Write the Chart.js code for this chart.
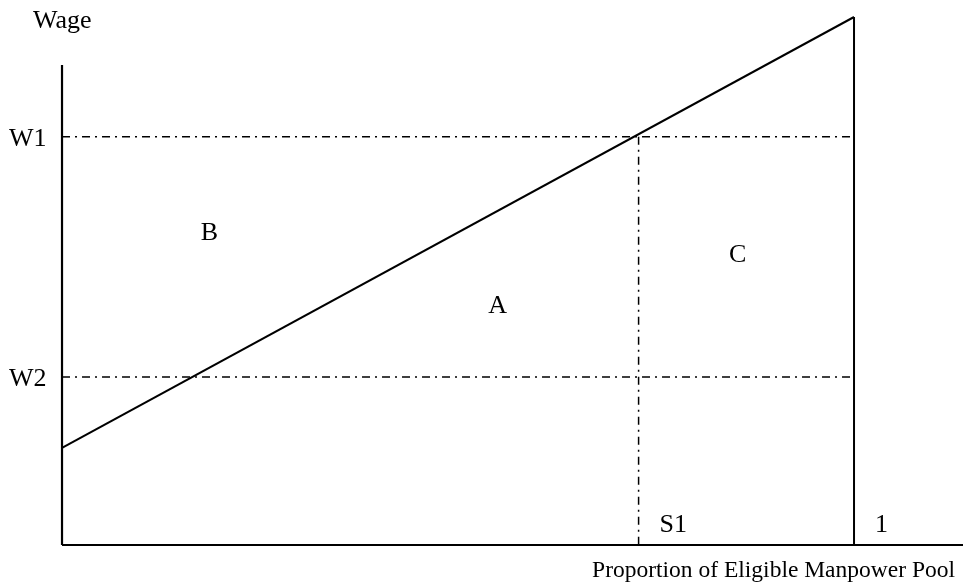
<!DOCTYPE html>
<html>
<head>
<meta charset="utf-8">
<script src="https://cdn.jsdelivr.net/npm/chart.js@4/dist/chart.umd.min.js"></script>
<style>
html,body{margin:0;padding:0;background:#fff;}
#c{display:block;}
</style>
</head>
<body>
<canvas id="c" width="963" height="587"></canvas>
<script>
// ---- Data (conceptual diagram values) ----
const supplyX = [0, 1];          // proportion of eligible pool
const supplyY = [1.84, 10];      // wage along supply curve
const W1 = 7.73;
const W2 = 3.18;
const S1 = 0.728;
const yAxisTop = 9.09;
const xAxisEnd = 1.14;
const wageTickLabels = ['W1', 'W2'];
const wageTickValues = [W1, W2];
const xTickLabels = ['S1', '1'];
const xTickValues = [S1, 1];
const regionLabels = ['B', 'A', 'C'];
const regionX = [0.186, 0.55, 0.853];
const regionY = [5.91, 4.53, 5.49];
const yTitle = 'Wage';
const xTitle = 'Proportion of Eligible Manpower Pool';

const FONT = '26px "Liberation Serif", "Times New Roman", serif';
const FONT_X = '23.5px "Liberation Serif", "Times New Roman", serif';
const dashDot = [8, 5, 2, 5];

const lineDs = (pts, opts) => Object.assign({
  data: pts, showLine: true, pointRadius: 0, borderColor: '#000',
  borderWidth: 2, fill: false, tension: 0
}, opts || {});

const datasets = [
  // axes
  lineDs([{x: 0, y: 0}, {x: 0, y: yAxisTop}], {borderWidth: 2.2}),
  lineDs([{x: 0, y: 0}, {x: xAxisEnd, y: 0}], {borderWidth: 2.2}),
  // vertical at proportion 1
  lineDs([{x: 1, y: 0}, {x: 1, y: supplyY[1]}], {borderWidth: 2}),
  // supply curve
  lineDs(supplyX.map((x, i) => ({x, y: supplyY[i]})), {borderWidth: 2}),
  // W1, W2 dash-dot
  lineDs([{x: 0, y: W1}, {x: 1, y: W1}], {borderWidth: 1.5, borderDash: dashDot}),
  lineDs([{x: 0, y: W2}, {x: 1, y: W2}], {borderWidth: 1.5, borderDash: dashDot}),
  // S1 vertical dash-dot
  lineDs([{x: S1, y: W1}, {x: S1, y: 0}], {borderWidth: 1.5, borderDash: dashDot}),
];

const textPlugin = {
  id: 'texts',
  afterDatasetsDraw(chart) {
    const ctx = chart.ctx;
    const xs = chart.scales.x, ys = chart.scales.y;
    ctx.save();
    ctx.fillStyle = '#000';
    ctx.font = FONT;
    // region labels
    ctx.textAlign = 'center';
    ctx.textBaseline = 'middle';
    regionLabels.forEach((t, i) => {
      ctx.fillText(t, xs.getPixelForValue(regionX[i]), ys.getPixelForValue(regionY[i]));
    });
    // wage tick labels
    ctx.textAlign = 'left';
    ctx.textBaseline = 'alphabetic';
    wageTickLabels.forEach((t, i) => {
      ctx.fillText(t, 9, ys.getPixelForValue(wageTickValues[i]) + 9);
    });
    // x tick labels (inside, above axis, right of line)
    const base = ys.getPixelForValue(0) - 13;
    xTickLabels.forEach((t, i) => {
      ctx.fillText(t, xs.getPixelForValue(xTickValues[i]) + 21, base);
    });
    // titles
    ctx.fillText(yTitle, 33, 28);
    ctx.font = FONT_X;
    ctx.textAlign = 'right';
    ctx.fillText(xTitle, 955, 577);
    ctx.restore();
  }
};

new Chart(document.getElementById('c'), {
  type: 'scatter',
  data: { datasets },
  options: {
    responsive: false,
    animation: false,
    layout: { padding: 0 },
    plugins: { legend: { display: false }, tooltip: { enabled: false } },
    scales: {
      x: { type: 'linear', display: false, min: -0.0783, max: 1.1376 },
      y: { type: 'linear', display: false, min: -0.795, max: 10.322 }
    }
  },
  plugins: [textPlugin]
});
</script>
</body>
</html>
